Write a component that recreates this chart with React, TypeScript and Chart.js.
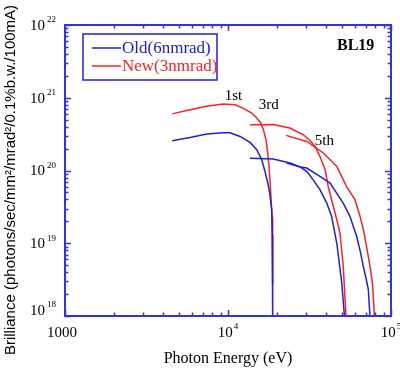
import React, { useEffect, useRef } from "react";
import { Chart, registerables } from "chart.js";

Chart.register(...registerables);

// ---- data (photon energy in eV, brilliance) ----
const old1E = [4550, 5850, 7400, 9350, 10280, 11860, 13650, 15000, 16100, 16860, 17470, 17980, 18540, 18700, 18790];
const old1B = [2.57e20, 2.85e20, 3.18e20, 3.31e20, 3.3e20, 2.94e20, 2.43e20, 1.93e20, 1.41e20, 9.7e19, 7.0e19, 5.1e19, 2.9e19, 1.3e19, 1e18];

const old3E = [13650, 18970, 24000, 27700, 30600, 33200, 36650, 40360, 43250, 46500, 49900, 51800];
const old3B = [1.47e20, 1.44e20, 1.27e20, 1.12e20, 9.6e19, 7.5e19, 5.45e19, 3.57e19, 2.34e19, 1.0e19, 2.84e18, 1e18];

const old5E = [22900, 27700, 30400, 36650, 42300, 50900, 56000, 58700, 61600, 65000, 67600, 70500, 72600, 74300];
const old5B = [1.27e20, 1.12e20, 1.08e20, 8.3e19, 6.7e19, 3.57e19, 2.34e19, 1.7e19, 1.24e19, 7.5e18, 4.8e18, 3.2e18, 2.3e18, 1e18];

const new1E = [4550, 5850, 7230, 9310, 11040, 12360, 13970, 15000, 15880, 16480, 17100, 17520, 17920, 18240, 18630, 18790, 18790];
const new1B = [6.0e20, 6.85e20, 7.6e20, 8.2e20, 8.0e20, 7.2e20, 6.17e20, 5.27e20, 4.5e20, 3.64e20, 2.65e20, 1.74e20, 1.03e20, 5.45e19, 2.34e19, 8.2e18, 2.7e18];

const new3E = [13650, 18970, 24000, 29000, 31800, 34200, 36650, 39400, 41200, 44300, 46500, 48650, 50950, 52950];
const new3B = [4.27e20, 4.3e20, 3.84e20, 3.1e20, 2.59e20, 2.14e20, 1.56e20, 1.03e20, 6.0e19, 3.2e19, 2.1e19, 1.38e19, 4.8e18, 1e18];

const new5E = [22700, 30400, 38470, 46500, 53400, 60100, 64600, 68300, 71300, 74300, 77100, 79100];
const new5B = [3.04e20, 2.51e20, 1.74e20, 1.14e20, 6.0e19, 3.97e19, 2.34e19, 1.4e19, 8.2e18, 4.9e18, 2.7e18, 1e18];

const seriesLabels = ["Old(6nmrad)", "New(3nmrad)"];
const harmonicLabels = ["1st", "3rd", "5th"];
const harmonicAnchorE = [10800, 17800, 39000];
const harmonicAnchorB = [1.05e21, 8.0e20, 2.5e20];

const xTickValues = [1000, 10000, 100000];
const xTickBase = ["1000", "10", "10"];
const xTickExp = ["", "4", "5"];
const yTickValues = [1e18, 1e19, 1e20, 1e21, 1e22];
const yTickExp = ["18", "19", "20", "21", "22"];

const xTitle = "Photon Energy (eV)";
const yTitle = "Brilliance (photons/sec/mm\u00b2/mrad\u00b2/0.1%b.w./100mA)";
const beamline = "BL19";

const BLUE = "#2020d0";
const RED = "#ff2020";
const AXIS = "#3434d6";
const SERIF = "'Liberation Serif', 'DejaVu Serif', serif";
const SANS = "'Liberation Sans', Arial, sans-serif";

const toPts = (xs: number[], ys: number[]) => xs.map((x, i) => ({ x, y: ys[i] }));

const decorPlugin = {
  id: "decor",
  afterDatasetsDraw(chart: any) {
    const ctx = chart.ctx as CanvasRenderingContext2D;
    const { left, right, top, bottom } = chart.chartArea;
    const xs = chart.scales.x;
    const ys = chart.scales.y;
    ctx.save();

    // frame
    ctx.strokeStyle = AXIS;
    ctx.lineWidth = 2;
    ctx.strokeRect(left, top, right - left, bottom - top);

    // ticks (inward, all sides)
    ctx.lineWidth = 1.5;
    ctx.beginPath();
    for (let n = 3; n <= 5; n++) {
      for (let k = 1; k <= 9; k++) {
        const v = k * Math.pow(10, n);
        if (v > 100000) break;
        const px = Math.round(xs.getPixelForValue(v)) + 0.5;
        const len = k === 1 ? 6 : 3.5;
        ctx.moveTo(px, bottom);
        ctx.lineTo(px, bottom - len);
        ctx.moveTo(px, top);
        ctx.lineTo(px, top + len);
      }
    }
    for (let n = 18; n <= 22; n++) {
      for (let k = 1; k <= 9; k++) {
        const v = k * Math.pow(10, n);
        if (v > 1e22) break;
        const py = Math.round(ys.getPixelForValue(v)) + 0.5;
        const len = k === 1 ? 6 : 3.5;
        ctx.moveTo(left, py);
        ctx.lineTo(left + len, py);
        ctx.moveTo(right, py);
        ctx.lineTo(right - len, py);
      }
    }
    ctx.stroke();

    // tick labels
    ctx.fillStyle = "#000";
    ctx.textBaseline = "middle";
    yTickValues.forEach((v, i) => {
      let py = ys.getPixelForValue(v) + 1;
      if (i === 0) py -= 6;
      ctx.font = `15px ${SERIF}`;
      ctx.textAlign = "right";
      ctx.fillText("10", left - 20, py);
      ctx.font = `9px ${SERIF}`;
      ctx.textAlign = "left";
      ctx.fillText(yTickExp[i], left - 18, py - 6);
    });
    xTickValues.forEach((v, i) => {
      const px = xs.getPixelForValue(v);
      const py = 333;
      ctx.font = `15px ${SERIF}`;
      const wb = ctx.measureText(xTickBase[i]).width;
      ctx.font = `9px ${SERIF}`;
      const we = xTickExp[i] ? ctx.measureText(xTickExp[i]).width + 1 : 0;
      const start = px - (wb + we) / 2 - (i === 0 ? 3 : 0);
      ctx.textAlign = "left";
      ctx.font = `15px ${SERIF}`;
      ctx.fillText(xTickBase[i], start, py);
      if (xTickExp[i]) {
        ctx.font = `9px ${SERIF}`;
        ctx.fillText(xTickExp[i], start + wb + 1, py - 6);
      }
    });

    // axis titles
    ctx.textAlign = "center";
    ctx.font = `16px ${SERIF}`;
    ctx.fillText(xTitle, (left + right) / 2, 359);
    ctx.save();
    ctx.translate(11, 180);
    ctx.rotate(-Math.PI / 2);
    ctx.font = `15px ${SANS}`;
    ctx.fillText(yTitle, 0, 0);
    ctx.restore();

    // harmonic labels
    ctx.font = `15px ${SERIF}`;
    harmonicLabels.forEach((t, i) => {
      ctx.fillText(t, xs.getPixelForValue(harmonicAnchorE[i]), ys.getPixelForValue(harmonicAnchorB[i]));
    });

    // beamline
    ctx.font = `bold 16px ${SERIF}`;
    ctx.textAlign = "left";
    ctx.fillText(beamline, 337, 46);

    // legend
    ctx.strokeStyle = BLUE;
    ctx.lineWidth = 1.5;
    ctx.strokeRect(83, 34, 134, 46);
    const legendColors = [BLUE, RED];
    const legendY = [48, 66];
    seriesLabels.forEach((lab, i) => {
      ctx.strokeStyle = legendColors[i];
      ctx.lineWidth = 1.5;
      ctx.beginPath();
      ctx.moveTo(92, legendY[i]);
      ctx.lineTo(121, legendY[i]);
      ctx.stroke();
      ctx.fillStyle = legendColors[i];
      ctx.font = `17px ${SERIF}`;
      ctx.textAlign = "left";
      ctx.fillText(lab, 122, legendY[i] + 1);
    });

    ctx.restore();
  },
};

export default function App() {
  const ref = useRef<HTMLCanvasElement | null>(null);
  useEffect(() => {
    if (!ref.current) return;
    const mk = (data: { x: number; y: number }[], color: string, label: string) => ({
      label,
      data,
      borderColor: color,
      backgroundColor: color,
      borderWidth: 1.5,
      pointRadius: 0,
      tension: 0,
      fill: false,
    });
    const chart = new Chart(ref.current, {
      type: "line",
      data: {
        datasets: [
          mk(toPts(old1E, old1B), BLUE, seriesLabels[0]),
          mk(toPts(old3E, old3B), BLUE, seriesLabels[0]),
          mk(toPts(old5E, old5B), BLUE, seriesLabels[0]),
          mk(toPts(new1E, new1B), RED, seriesLabels[1]),
          mk(toPts(new3E, new3B), RED, seriesLabels[1]),
          mk(toPts(new5E, new5B), RED, seriesLabels[1]),
        ],
      },
      options: {
        responsive: false,
        animation: false,
        layout: { padding: { left: 65, right: 9, top: 25, bottom: 52 } },
        plugins: { legend: { display: false }, tooltip: { enabled: false } },
        scales: {
          x: { type: "logarithmic", min: 1000, max: 100000, display: false },
          y: { type: "logarithmic", min: 1e18, max: 1e22, display: false },
        },
      },
      plugins: [decorPlugin],
    });
    return () => chart.destroy();
  }, []);
  return (
    <div style={{ position: "fixed", left: 0, top: 0, width: 400, height: 368, background: "#fff" }}>
      <canvas ref={ref} width={400} height={368} style={{ width: 400, height: 368, display: "block" }} />
    </div>
  );
}
